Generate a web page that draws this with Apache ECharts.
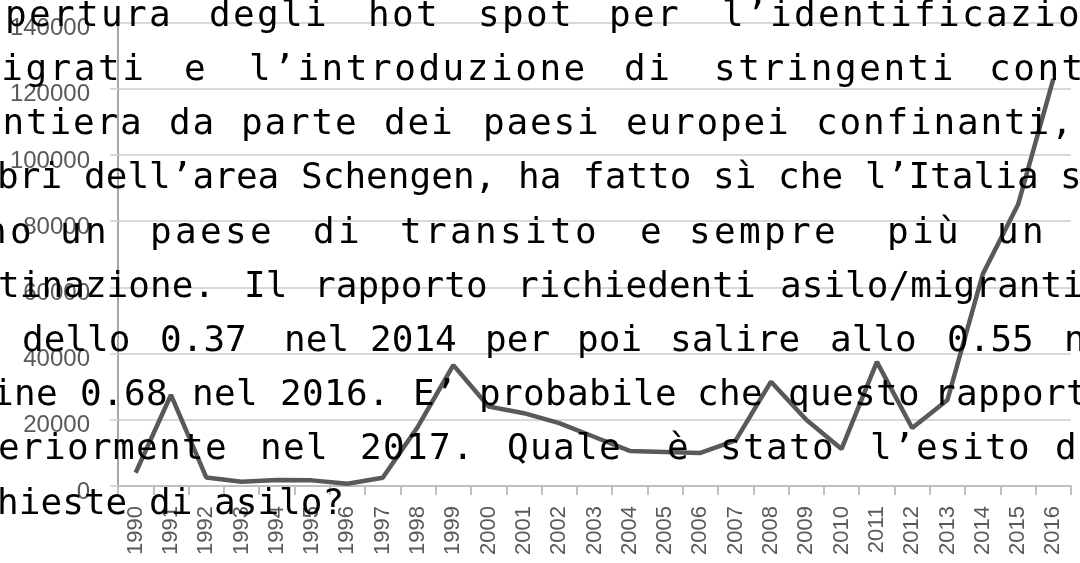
<!DOCTYPE html>
<html>
<head>
<meta charset="utf-8">
<script src="https://cdn.jsdelivr.net/npm/echarts@6/dist/echarts.min.js"></script>
<style>
  html, body { margin: 0; padding: 0; background: #fff; }
  #chart { width: 1080px; height: 563px; }
</style>
</head>
<body>
<div id="chart"></div>
<script>
// Richieste di asilo in Italia, 1990-2016
const years = ['1990', '1991', '1992', '1993', '1994', '1995', '1996', '1997', '1998', '1999',
  '2000', '2001', '2002', '2003', '2004', '2005', '2006', '2007', '2008', '2009',
  '2010', '2011', '2012', '2013', '2014', '2015', '2016'];
const requests = [4000, 27500, 2600, 1300, 1800, 1700, 700, 2500, 18000, 36500,
  24000, 22000, 19000, 14800, 10600, 10300, 10000, 13800, 31500, 20000,
  11200, 37500, 17500, 26000, 64000, 85000, 123000];
const yTicks = [0, 20000, 40000, 60000, 80000, 100000, 120000, 140000];

// testo sovrapposto (paragrafo giustificato, monospazio)
const textWords = [
  ['pertura', 'degli', 'hot', 'spot', 'per', 'l’identificazione'],
  ['migrati', 'e', 'l’introduzione', 'di', 'stringenti', 'controlli'],
  ['frontiera', 'da', 'parte', 'dei', 'paesi', 'europei', 'confinanti,'],
  ['membri', 'dell’area', 'Schengen,', 'ha', 'fatto', 'sì', 'che', 'l’Italia', 'si'],
  ['meno', 'un', 'paese', 'di', 'transito', 'e', 'sempre', 'più', 'un'],
  ['destinazione.', 'Il', 'rapporto', 'richiedenti', 'asilo/migranti'],
  ['dello', '0.37', 'nel', '2014', 'per', 'poi', 'salire', 'allo', '0.55', 'nel'],
  ['fine', '0.68', 'nel', '2016.', 'E’', 'probabile', 'che', 'questo', 'rapporto'],
  ['ulteriormente', 'nel', '2017.', 'Quale', 'è', 'stato', 'l’esito', 'delle'],
  ['richieste', 'di', 'asilo?']
];
// layout: x of each word, letter pitch per line
const wordX = [
  [5, 209, 368, 478, 609, 722],
  [-23, 184, 249, 624, 714, 989],
  [-68, 169, 241, 384, 483, 626, 816],
  [-68, 84, 301, 518, 583, 713, 778, 865, 1060],
  [-65, 60, 150, 313, 400, 640, 689, 887, 997],
  [-67, 244, 314, 517, 780],
  [22, 160, 284, 370, 485, 577, 670, 830, 947, 1064],
  [-30, 80, 192, 280, 413, 479, 697, 788, 934],
  [-71, 260, 360, 507, 667, 720, 870, 1055],
  [-68, 149, 214]
];
const linePitch = [24, 24.2, 23.5, 21.7, 25, 21.7, 21.7, 22, 23, 21.7];

const chart = echarts.init(document.getElementById('chart'));

const graphic = [];
textWords.forEach((words, li) => {
  const baseline = 29 + 54.2 * li;
  words.forEach((w, wi) => {
    Array.from(w).forEach((ch, ci) => {
      graphic.push({
        type: 'text',
        z: 100,
        x: wordX[li][wi] + ci * linePitch[li],
        y: baseline - 12.5,
        style: {
          text: ch,
          fill: '#000',
          font: '36px "DejaVu Sans Mono"',
          align: 'left',
          verticalAlign: 'middle'
        }
      });
    });
  });
});

chart.setOption({
  animation: false,
  grid: { left: 118, right: 9, top: 22.5, bottom: 77 },
  xAxis: {
    type: 'category',
    data: years,
    boundaryGap: true,
    axisLine: { lineStyle: { color: '#bfbfbf', width: 2 } },
    axisTick: { show: true, length: 9, lineStyle: { color: '#bfbfbf', width: 2 } },
    axisLabel: {
      rotate: 90,
      interval: 0,
      margin: 20,
      color: '#595959',
      fontFamily: 'Liberation Sans',
      fontSize: 22
    }
  },
  yAxis: {
    type: 'value',
    min: yTicks[0],
    max: yTicks[yTicks.length - 1],
    interval: 20000,
    axisLine: { show: true, lineStyle: { color: '#a6a6a6', width: 2 } },
    axisTick: { show: true, length: 8, lineStyle: { color: '#d9d9d9', width: 2 } },
    splitLine: { lineStyle: { color: '#d9d9d9', width: 2 } },
    axisLabel: {
      margin: 28,
      color: '#595959',
      fontFamily: 'Liberation Sans',
      fontSize: 24,
      verticalAlign: 'top',
      lineHeight: 12,
      formatter: v => String(v)
    }
  },
  series: [{
    type: 'line',
    data: requests,
    showSymbol: false,
    lineStyle: { color: '#595959', width: 4.5 },
    z: 3
  }],
  graphic: graphic
});
</script>
</body>
</html>
